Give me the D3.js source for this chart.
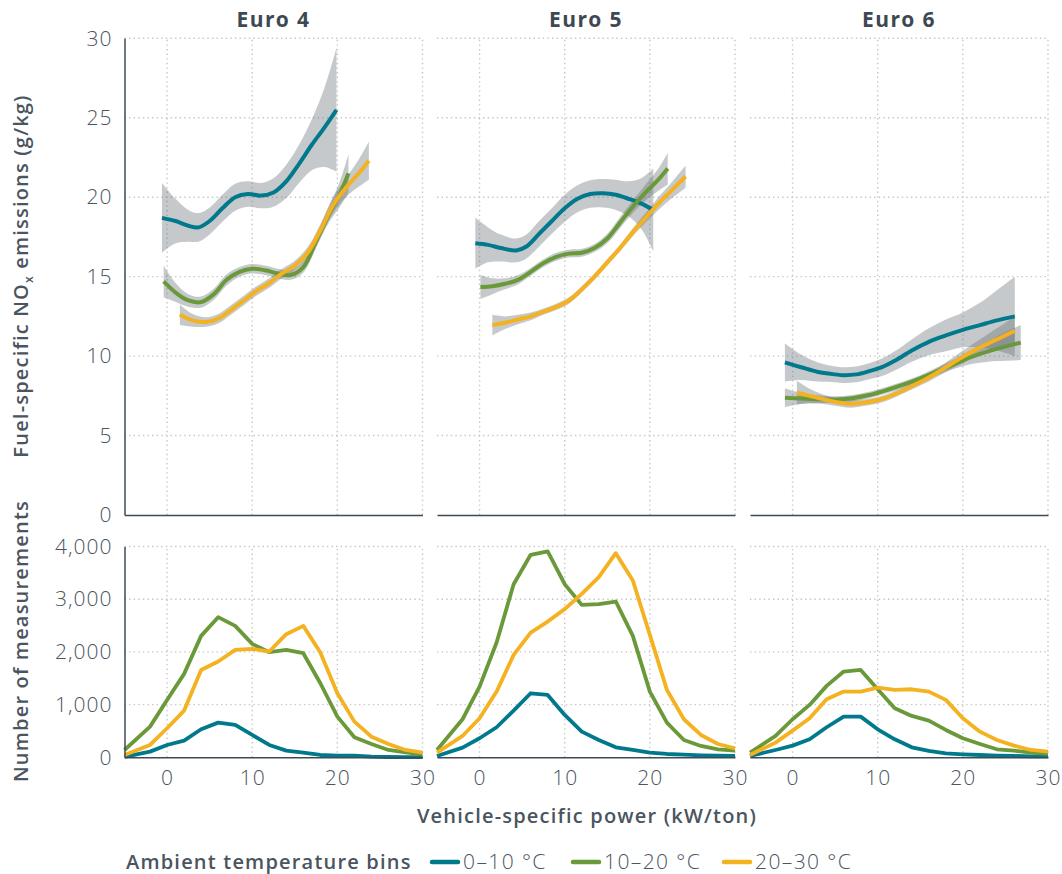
<!DOCTYPE html>
<html>
<head>
<meta charset="utf-8">
<script src="https://cdnjs.cloudflare.com/ajax/libs/d3/7.8.5/d3.min.js"></script>
<style>
  body { margin: 0; background: #fff; }
  svg text { font-family: "Open Sans", "DejaVu Sans", sans-serif; fill: #4a5560; }
</style>
</head>
<body>
<div id="chart"></div>
<script>
// panels and series
var panels = ["Euro 4", "Euro 5", "Euro 6"];
var bins = ["0\u201310 \u00b0C", "10\u201320 \u00b0C", "20\u201330 \u00b0C"];
var colors = ["#00798c", "#6a993a", "#f4b120"];

// smoothed fits (x = VSP, y = g/kg, se = half width of band), order: teal, green, orange
var fitE4x = [
  [-0.6, 1, 2.5, 3.7, 5, 6.5, 8, 9.5, 11, 12.5, 14, 15.5, 17, 18.5, 19.9],
  [-0.4, 1, 2.5, 4, 5.5, 7, 8.5, 10, 11.5, 13, 14.5, 16, 17.5, 19, 20.3, 21.3],
  [1.5, 3, 4.6, 6, 7.5, 9, 10.5, 12, 13.5, 15, 16.5, 18, 19.5, 21, 22.5, 23.7]
];
var fitE4y = [
  [18.7, 18.5, 18.2, 18.1, 18.5, 19.3, 20.0, 20.2, 20.1, 20.3, 21.0, 22.1, 23.3, 24.4, 25.5],
  [14.7, 14.0, 13.5, 13.4, 13.9, 14.8, 15.3, 15.5, 15.4, 15.2, 15.1, 15.6, 17.2, 18.9, 20.2, 21.5],
  [12.6, 12.25, 12.15, 12.35, 12.9, 13.5, 14.1, 14.6, 15.2, 15.7, 16.5, 17.9, 19.5, 20.6, 21.5, 22.3]
];
var fitE4se = [
  [2.2, 1.4, 1.0, 0.9, 0.85, 0.85, 0.85, 0.8, 0.8, 0.9, 1.05, 1.2, 1.6, 2.5, 3.9],
  [1.0, 0.6, 0.4, 0.35, 0.35, 0.35, 0.3, 0.3, 0.3, 0.3, 0.3, 0.35, 0.4, 0.5, 0.8, 1.2],
  [0.65, 0.4, 0.3, 0.3, 0.3, 0.3, 0.3, 0.3, 0.3, 0.3, 0.35, 0.4, 0.5, 0.6, 0.85, 1.2]
];

var fitE5x = [
  [-0.5, 1, 2.5, 4.3, 5.5, 7, 8.5, 10, 11.5, 13, 14.5, 16, 17.5, 19, 20.4],
  [0.1, 1.5, 3, 4.5, 6, 7.5, 9, 10.5, 12, 13.5, 15, 16.5, 18, 19.5, 21, 22.1],
  [1.5, 3, 4.5, 6, 7.5, 9, 10.5, 12, 13.5, 15, 16.5, 18, 19.5, 21, 22.5, 24.2]
];
var fitE5y = [
  [17.1, 17.0, 16.8, 16.65, 16.9, 17.7, 18.5, 19.3, 19.9, 20.2, 20.25, 20.15, 19.9, 19.6, 19.2],
  [14.35, 14.4, 14.55, 14.8, 15.3, 15.85, 16.25, 16.45, 16.5, 16.8, 17.4, 18.4, 19.4, 20.3, 21.1, 21.8],
  [11.95, 12.1, 12.3, 12.5, 12.8, 13.1, 13.5, 14.2, 15.0, 15.9, 16.8, 17.8, 18.7, 19.6, 20.4, 21.3]
];
var fitE5se = [
  [1.6, 1.1, 0.85, 0.75, 0.75, 0.8, 0.8, 0.85, 0.85, 0.87, 0.9, 0.95, 1.1, 1.6, 2.6],
  [0.75, 0.5, 0.35, 0.3, 0.25, 0.25, 0.25, 0.25, 0.25, 0.25, 0.3, 0.35, 0.4, 0.5, 0.7, 1.0],
  [0.65, 0.4, 0.3, 0.25, 0.2, 0.2, 0.2, 0.2, 0.2, 0.2, 0.2, 0.25, 0.3, 0.4, 0.5, 0.7]
];

var fitE6x = [
  [-0.9, 1, 3, 5, 6, 7.5, 9, 10.5, 12, 14, 16, 18, 20, 22, 24, 26.1],
  [-0.9, 1, 3, 5, 7, 9, 11, 13, 15, 17, 19, 21, 23, 25, 26.8],
  [0.5, 2, 3.5, 5, 6.8, 8.5, 10.3, 12, 14, 16, 18, 20, 22, 24, 26.1]
];
var fitE6y = [
  [9.6, 9.3, 9.0, 8.85, 8.8, 8.85, 9.05, 9.3, 9.7, 10.35, 10.9, 11.3, 11.65, 11.95, 12.25, 12.5],
  [7.38, 7.33, 7.28, 7.27, 7.35, 7.55, 7.85, 8.2, 8.6, 9.05, 9.5, 9.95, 10.3, 10.6, 10.85],
  [7.7, 7.5, 7.3, 7.12, 7.0, 7.08, 7.27, 7.6, 8.1, 8.65, 9.3, 9.95, 10.55, 11.05, 11.6]
];
var fitE6se = [
  [1.2, 0.8, 0.6, 0.5, 0.5, 0.5, 0.5, 0.55, 0.6, 0.7, 0.85, 1.0, 1.1, 1.4, 1.9, 2.5],
  [0.6, 0.35, 0.25, 0.2, 0.2, 0.2, 0.2, 0.2, 0.2, 0.25, 0.3, 0.45, 0.65, 0.9, 1.1],
  [0.75, 0.45, 0.3, 0.25, 0.25, 0.2, 0.2, 0.2, 0.2, 0.25, 0.3, 0.4, 0.5, 0.7, 0.9]
];

// measurement counts per VSP bin
var vspBins = [-5, -2, 0, 2, 4, 6, 8, 10, 12, 14, 16, 18, 20, 22, 24, 26, 28, 30];
var countE4 = [
  [10, 108, 234, 316, 532, 658, 614, 424, 234, 127, 89, 44, 32, 32, 13, 6, 4, 2],
  [139, 582, 1089, 1583, 2304, 2659, 2494, 2152, 1994, 2038, 1975, 1405, 772, 380, 253, 139, 95, 57],
  [44, 234, 551, 886, 1658, 1817, 2038, 2057, 2007, 2336, 2494, 1988, 1215, 677, 392, 253, 139, 89]
];
var countE5 = [
  [25, 184, 361, 570, 886, 1215, 1184, 804, 487, 329, 190, 139, 89, 63, 51, 38, 32, 25],
  [139, 722, 1342, 2178, 3285, 3842, 3906, 3285, 2893, 2906, 2956, 2304, 1247, 658, 329, 215, 152, 127],
  [89, 405, 741, 1247, 1943, 2367, 2576, 2811, 3102, 3418, 3874, 3355, 2323, 1279, 722, 424, 253, 171]
];
var countE6 = [
  [25, 139, 222, 342, 570, 772, 772, 532, 342, 190, 120, 76, 57, 44, 32, 25, 19, 19],
  [89, 405, 722, 994, 1355, 1627, 1658, 1291, 930, 785, 696, 519, 361, 253, 152, 127, 89, 63],
  [44, 278, 506, 741, 1101, 1247, 1247, 1323, 1279, 1291, 1247, 1089, 741, 487, 329, 222, 139, 108]
];

var xTicks = [0, 10, 20, 30];
var yTopTicks = [0, 5, 10, 15, 20, 25, 30];
var yBotTicks = [0, 1000, 2000, 3000, 4000];

var fitX = [fitE4x, fitE5x, fitE6x];
var fitY = [fitE4y, fitE5y, fitE6y];
var fitSe = [fitE4se, fitE5se, fitE6se];
var counts = [countE4, countE5, countE6];

var w = 1062, h = 874;
var panelLeft = [124.5, 437, 750];
var panelW = 298;

var svg = d3.select("#chart").append("svg")
  .attr("width", w).attr("height", h);

var yTop = d3.scaleLinear().domain([0, 30]).range([515, 38.3]);
var yBot = d3.scaleLinear().domain([0, 4000]).range([757.3, 546.5]);

var axisColor = "#3f4a54";
var gridColor = "#c6c6c6";

function tickStyle(sel) {
  sel.style("font-size", "21px").style("font-weight", 300)
    .style("letter-spacing", "1px")
    .style("font-family", "'Open Sans', sans-serif").attr("fill", "#4a5560");
}
function titleStyle(sel) {
  sel.style("font-size", "20px").style("font-weight", 600)
    .style("letter-spacing", "1.2px");
}

panels.forEach(function(name, p) {
  var x = d3.scaleLinear().domain([-5, 30]).range([panelLeft[p], panelLeft[p] + panelW]);
  var g = svg.append("g");

  // grid
  [[yTop, yTopTicks.slice(1)], [yBot, yBotTicks.slice(1)]].forEach(function(pair) {
    var ys = pair[0];
    g.selectAll(null).data(pair[1]).enter().append("line")
      .attr("x1", x(-5)).attr("x2", x(30))
      .attr("y1", function(d) { return ys(d); }).attr("y2", function(d) { return ys(d); })
      .attr("stroke", gridColor).attr("stroke-width", 1.4).attr("stroke-dasharray", "1.4,3.2");
    g.selectAll(null).data(xTicks).enter().append("line")
      .attr("x1", function(d) { return x(d); }).attr("x2", function(d) { return x(d); })
      .attr("y1", ys.range()[0]).attr("y2", ys.range()[1])
      .attr("stroke", gridColor).attr("stroke-width", 1.4).attr("stroke-dasharray", "1.4,3.2");
  });

  // title
  svg.append("text")
    .attr("x", x(-5) + panelW / 2).attr("y", 27)
    .attr("text-anchor", "middle")
    .style("font-size", "21px").style("font-weight", 700).style("letter-spacing", "1.4px")
    .style("fill", "#3e4852")
    .text(name);

  // confidence bands
  var area = d3.area()
    .x(function(d) { return x(d[0]); })
    .y0(function(d) { return yTop(d[1] - d[2]); })
    .y1(function(d) { return yTop(d[1] + d[2]); })
    .curve(d3.curveCatmullRom);
  var line = d3.line()
    .x(function(d) { return x(d[0]); })
    .y(function(d) { return yTop(d[1]); })
    .curve(d3.curveCatmullRom);

  var fits = [0, 1, 2].map(function(s) {
    return fitX[p][s].map(function(v, i) { return [v, fitY[p][s][i], fitSe[p][s][i]]; });
  });

  fits.forEach(function(f) {
    g.append("path").datum(f).attr("d", area)
      .attr("fill", "#656c72").attr("fill-opacity", 0.37);
  });
  fits.forEach(function(f, s) {
    g.append("path").datum(f).attr("d", line)
      .attr("fill", "none").attr("stroke", colors[s]).attr("stroke-width", 4);
  });

  // count lines
  var cline = d3.line()
    .x(function(d) { return x(d[0]); })
    .y(function(d) { return yBot(d[1]); });
  counts[p].forEach(function(c, s) {
    g.append("path").datum(vspBins.map(function(v, i) { return [v, c[i]]; }))
      .attr("d", cline)
      .attr("fill", "none").attr("stroke", colors[s]).attr("stroke-width", 3.8)
      .attr("stroke-linejoin", "round");
  });

  // x baselines
  var topBase = svg.append("g").attr("transform", "translate(0," + yTop(0) + ")")
    .call(d3.axisBottom(x).tickValues([]).tickSizeOuter(0));
  topBase.select(".domain").attr("stroke", axisColor).attr("stroke-width", 1.5);

  var botAxis = svg.append("g").attr("transform", "translate(0," + yBot(0) + ")")
    .call(d3.axisBottom(x).tickValues(xTicks).tickSize(0).tickSizeOuter(0).tickPadding(13));
  botAxis.select(".domain").attr("stroke", axisColor).attr("stroke-width", 1.5);
  botAxis.selectAll("text").call(tickStyle);

  if (p === 0) {
    var ya = svg.append("g").attr("transform", "translate(" + x(-5) + ",0)")
      .call(d3.axisLeft(yTop).tickValues(yTopTicks).tickSize(0).tickSizeOuter(0).tickPadding(12));
    var yb = svg.append("g").attr("transform", "translate(" + x(-5) + ",0)")
      .call(d3.axisLeft(yBot).tickValues(yBotTicks).tickSize(0).tickSizeOuter(0).tickPadding(12)
        .tickFormat(d3.format(",")));
    [ya, yb].forEach(function(a) {
      a.select(".domain").attr("stroke", axisColor).attr("stroke-width", 1.5);
      a.selectAll("text").call(tickStyle);
    });
  }
});

// axis titles
svg.append("text")
  .attr("x", 587).attr("y", 823).attr("text-anchor", "middle")
  .call(titleStyle)
  .text("Vehicle-specific power (kW/ton)");

var yt = svg.append("text")
  .attr("transform", "translate(28,276) rotate(-90)")
  .attr("text-anchor", "middle")
  .call(titleStyle);
yt.append("tspan").text("Fuel-specific NO");
yt.append("tspan").attr("dy", 5).style("font-size", "12px").text("x");
yt.append("tspan").attr("dy", -5).text(" emissions (g/kg)");

svg.append("text")
  .attr("transform", "translate(28,641) rotate(-90)")
  .attr("text-anchor", "middle")
  .call(titleStyle)
  .text("Number of measurements");

// legend
var legend = svg.append("g").attr("transform", "translate(0,869)");
legend.append("text").attr("x", 126).attr("y", 0)
  .call(titleStyle)
  .text("Ambient temperature bins");
var legX = [432, 573, 724];
bins.forEach(function(b, i) {
  legend.append("line")
    .attr("x1", legX[i]).attr("x2", legX[i] + 26)
    .attr("y1", -7).attr("y2", -7)
    .attr("stroke", colors[i]).attr("stroke-width", 4.5).attr("stroke-linecap", "round");
  legend.append("text").attr("x", legX[i] + 31).attr("y", 0)
    .style("font-size", "21px").style("font-weight", 300).style("letter-spacing", "1.4px")
    .text(b);
});
</script>
</body>
</html>
